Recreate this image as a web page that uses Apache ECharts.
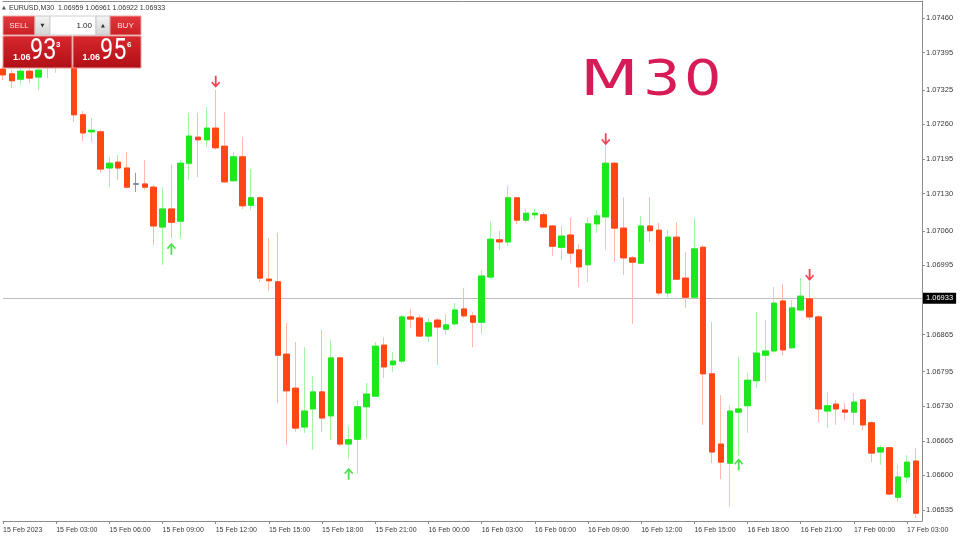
<!DOCTYPE html>
<html><head><meta charset="utf-8">
<script src="https://cdn.jsdelivr.net/npm/echarts@6/dist/echarts.min.js"></script>
<style>html,body{margin:0;padding:0;background:#fff}#c{width:960px;height:540px}</style>
</head><body><div id="c"></div>
<script>
// ---- data ----
const xLabels = ['15 Feb 2023','15 Feb 03:00','15 Feb 06:00','15 Feb 09:00','15 Feb 12:00','15 Feb 15:00','15 Feb 18:00','15 Feb 21:00','16 Feb 00:00','16 Feb 03:00','16 Feb 06:00','16 Feb 09:00','16 Feb 12:00','16 Feb 15:00','16 Feb 18:00','16 Feb 21:00','17 Feb 00:00','17 Feb 03:00'];
const yTicks = [1.06535,1.06600,1.06665,1.06730,1.06795,1.06865,1.06995,1.07060,1.07130,1.07195,1.07260,1.07325,1.07395,1.07460];
const opens = [1.07364,1.07355,1.07345,1.07360,1.07349,1.07373,1.07368,1.07377,1.07370,1.07278,
1.07246,1.07246,1.07178,1.07189,1.07178,1.07148,1.07148,1.07142,1.07067,1.07101,
1.07078,1.07187,1.07236,1.07231,1.07253,1.07219,1.07154,1.07199,1.07108,1.07122,
1.06969,1.06964,1.06828,1.06764,1.06691,1.06725,1.06757,1.06712,1.06821,1.06659,
1.06668,1.06729,1.06749,1.06845,1.06808,1.06815,1.06898,1.06896,1.06862,1.06892,
1.06875,1.06885,1.06913,1.06900,1.06888,1.06973,1.07043,1.07039,1.07122,1.07080,
1.07090,1.07090,1.07069,1.07029,1.07052,1.07024,1.06996,1.07073,1.07086,1.07187,
1.07065,1.07009,1.06999,1.07069,1.07061,1.06943,1.07048,1.06971,1.06935,1.07029,
1.06791,1.06659,1.06623,1.06719,1.06731,1.06778,1.06826,1.06834,1.06928,1.06840,
1.06911,1.06932,1.06898,1.06721,1.06734,1.06723,1.06719,1.06742,1.06699,1.06644,
1.06652,1.06559,1.06597,1.06627];
const closes = [1.07353,1.07342,1.07360,1.07347,1.07362,1.07368,1.07377,1.07370,1.07278,1.07244,
1.07249,1.07176,1.07187,1.07178,1.07142,1.07148,1.07142,1.07069,1.07101,1.07076,
1.07187,1.07238,1.07231,1.07253,1.07216,1.07152,1.07199,1.07107,1.07122,1.06971,
1.06966,1.06826,1.06759,1.06689,1.06721,1.06757,1.06708,1.06821,1.06659,1.06667,
1.06729,1.06753,1.06843,1.06804,1.06815,1.06898,1.06894,1.06862,1.06887,1.06879,
1.06883,1.06911,1.06900,1.06888,1.06975,1.07044,1.07039,1.07122,1.07080,1.07093,
1.07093,1.07067,1.07031,1.07050,1.07018,1.06992,1.07073,1.07088,1.07187,1.07065,
1.07009,1.07001,1.07069,1.07060,1.06943,1.07048,1.06969,1.06935,1.07026,1.06791,
1.06644,1.06625,1.06721,1.06725,1.06779,1.06830,1.06834,1.06924,1.06836,1.06915,
1.06937,1.06898,1.06725,1.06731,1.06725,1.06719,1.06738,1.06695,1.06642,1.06652,
1.06565,1.06597,1.06625,1.06529];
const lows = [1.07343,1.07328,1.07334,1.07338,1.07325,1.07347,1.07357,1.07368,1.07264,1.07229,
1.07227,1.07169,1.07142,1.07155,1.07140,1.07133,1.07137,1.07033,1.06996,1.07046,
1.07046,1.07155,1.07161,1.07217,1.07212,1.07150,1.07152,1.07101,1.07099,1.06964,
1.06947,1.06736,1.06657,1.06682,1.06680,1.06648,1.06682,1.06667,1.06655,1.06631,
1.06603,1.06670,1.06747,1.06783,1.06794,1.06811,1.06877,1.06860,1.06851,1.06808,
1.06864,1.06883,1.06896,1.06841,1.06866,1.06969,1.07024,1.07031,1.07073,1.07075,
1.07082,1.07065,1.07013,1.07005,1.06999,1.06954,1.06964,1.07056,1.07024,1.07001,
1.06977,1.06885,1.06997,1.07039,1.06939,1.06935,1.06967,1.06915,1.06934,1.06695,
1.06623,1.06593,1.06541,1.06638,1.06680,1.06764,1.06776,1.06832,1.06826,1.06838,
1.06909,1.06892,1.06700,1.06689,1.06695,1.06704,1.06695,1.06685,1.06625,1.06620,
1.06563,1.06550,1.06586,1.06520];
const highs = [1.07370,1.07362,1.07366,1.07368,1.07370,1.07381,1.07385,1.07385,1.07375,1.07285,
1.07272,1.07249,1.07199,1.07202,1.07208,1.07169,1.07193,1.07146,1.07142,1.07184,
1.07193,1.07281,1.07281,1.07293,1.07325,1.07283,1.07208,1.07236,1.07176,1.07125,
1.07046,1.07056,1.06887,1.06851,1.06841,1.06787,1.06873,1.06856,1.06823,1.06693,
1.06742,1.06774,1.06851,1.06860,1.06832,1.06902,1.06913,1.06902,1.06896,1.06896,
1.06903,1.06924,1.06952,1.06907,1.06986,1.07078,1.07060,1.07144,1.07123,1.07101,
1.07101,1.07095,1.07071,1.07069,1.07084,1.07035,1.07084,1.07099,1.07221,1.07189,
1.07123,1.07013,1.07088,1.07123,1.07075,1.07061,1.07076,1.07020,1.07084,1.07033,
1.06888,1.06751,1.06732,1.06823,1.06793,1.06907,1.06892,1.06954,1.06960,1.06930,
1.06971,1.06964,1.06902,1.06757,1.06742,1.06736,1.06755,1.06744,1.06702,1.06657,
1.06653,1.06620,1.06638,1.06652];
const downArrows = [[24,1.07340],[68,1.07232],[91,1.06977]];
const upArrows = [[19,1.07026],[39,1.06603],[83,1.06621]];
const lastPrice = 1.06933;
const headerText = 'EURUSD,M30  1.06959 1.06961 1.06922 1.06933';
const sellBig = '93', sellSmall = '1.06', sellSup = '3';
const buyBig = '95', buySmall = '1.06', buySup = '6';
const lotText = '1.00';

// ---- build ----
const xTickValues = xLabels.map((_, i) => i * 6);
const wickData = opens.map((o, i) => [i, o, closes[i], lows[i], highs[i]]);
const bodyData = opens.map((o, i) => [i, o, closes[i], Math.min(o, closes[i]), Math.max(o, closes[i])]);

const UP = '#1de81d', DOWN = '#ff4614';
const redGrad = () => new echarts.graphic.LinearGradient(0,0,0,1,[{offset:0,color:'#e4393e'},{offset:1,color:'#c81f25'}]);
const boxGrad = () => new echarts.graphic.LinearGradient(0,0,0,1,[{offset:0,color:'#d8272d'},{offset:1,color:'#b00f16'}]);
const grayGrad = () => new echarts.graphic.LinearGradient(0,0,0,1,[{offset:0,color:'#f6f6f6'},{offset:1,color:'#d2d2d2'}]);
const txt = (x, y, text, font, fill, align, extra) => Object.assign({
  type:'text', x, y, z:100,
  style:{text, font, fill, align: align||'left', textAlign: align||'left', verticalAlign:'middle', textVerticalAlign:'middle'}
}, extra||{});
const rect = (x, y, w, h, fill, stroke) => ({type:'rect', z:99, shape:{x,y,width:w,height:h}, style:{fill, stroke: stroke||null, lineWidth: stroke?1:0}});

const arrowDown = 'path://M4,0 L6,0 L6,8.2 L8.8,5.4 L10,6.6 L5,11.6 L0,6.6 L1.2,5.4 L4,8.2 Z';
const arrowUp = 'path://M4,11.6 L6,11.6 L6,3.4 L8.8,6.2 L10,5 L5,0 L0,5 L1.2,6.2 L4,3.4 Z';

const chart = echarts.init(document.getElementById('c'));
chart.setOption({
  animation:false,
  backgroundColor:'#ffffff',
  grid:{left:0, right:38, top:1, bottom:19},
  xAxis:[{
    type:'value', min:0, max:103.68, position:'bottom',
    axisLine:{show:true, onZero:false, lineStyle:{color:'#8c8c8c', width:1}},
    axisTick:{show:true, length:3, customValues:xTickValues, lineStyle:{color:'#8c8c8c'}},
    axisLabel:{customValues:xTickValues, formatter:v => xLabels[Math.round(v/6)], align:'left', margin:6,
      fontSize:7, color:'#3a3a3a', fontFamily:'Liberation Sans'},
    splitLine:{show:false}
  },{
    type:'value', min:0, max:103.68, position:'top',
    axisLine:{show:true, onZero:false, lineStyle:{color:'#8c8c8c', width:1}},
    axisTick:{show:false}, axisLabel:{show:false}, splitLine:{show:false}
  }],
  yAxis:{
    type:'value', position:'right', min:1.065143, max:1.074920,
    axisLine:{show:true, onZero:false, lineStyle:{color:'#8c8c8c', width:1}},
    axisTick:{show:true, length:3, customValues:yTicks, lineStyle:{color:'#8c8c8c'}},
    axisLabel:{customValues:yTicks, formatter:v => v.toFixed(5), align:'left', margin:4,
      fontSize:7.5, color:'#3a3a3a', fontFamily:'Liberation Sans'},
    splitLine:{show:false}
  },
  series:[{
    type:'candlestick', data:wickData, encode:{x:0, y:[1,2,3,4]}, barWidth:6,
    itemStyle:{color:UP, color0:DOWN, borderColor:'#a6f2a6', borderColor0:'#ffbaa8', borderColorDoji:'#8898b8', borderWidth:1}
  },{
    type:'candlestick', data:bodyData, encode:{x:0, y:[1,2,3,4]}, barWidth:6,
    itemStyle:{color:UP, color0:DOWN, borderColor:UP, borderColor0:DOWN, borderColorDoji:'#6f82a8', borderWidth:1}
  },{
    type:'scatter', data:downArrows, symbol:arrowDown, symbolSize:[9,12], z:5,
    itemStyle:{color:'#e8182c'}
  },{
    type:'scatter', data:upArrows, symbol:arrowUp, symbolSize:[9,12], z:5,
    itemStyle:{color:'#20d820'},
    markLine:{
      silent:true, symbol:['none','none'], z:1, precision:5,
      lineStyle:{color:'#bdbdbd', width:1, type:'solid'},
      label:{show:true, position:'end', distance:1, formatter:lastPrice.toFixed(5), color:'#ffffff',
        backgroundColor:'#000000', padding:[2,3,1,3], fontSize:7.5, fontFamily:'Liberation Sans'},
      data:[{yAxis:lastPrice}]
    }
  }],
  graphic:[
    txt(2, 8, '▲', '5px DejaVu Sans', '#555'),
    txt(9, 8, headerText, '7px Liberation Sans', '#333'),
    // top row
    rect(3, 16, 32, 19, redGrad(), '#f0a6a6'),
    txt(19, 26, 'SELL', '8px Liberation Sans', '#ffe6e6', 'center'),
    rect(35, 16, 15, 19, grayGrad(), '#c8c8c8'),
    txt(42.5, 26, '▼', '5px DejaVu Sans', '#333', 'center'),
    rect(50, 16, 46, 19, '#ffffff', '#d0d0d0'),
    txt(92, 26, lotText, '8px Liberation Sans', '#222', 'right'),
    rect(96, 16, 14, 19, grayGrad(), '#c8c8c8'),
    txt(103, 26, '▲', '5px DejaVu Sans', '#333', 'center'),
    rect(110, 16, 31, 19, redGrad(), '#f0a6a6'),
    txt(125.5, 26, 'BUY', '8px Liberation Sans', '#ffe6e6', 'center'),
    // price boxes
    rect(3, 36, 69, 32, boxGrad(), '#e89a9a'),
    rect(73, 36, 68, 32, boxGrad(), '#e89a9a'),
    txt(13, 57.5, sellSmall, 'bold 9px Liberation Sans', '#ffffff'),
    txt(30, 51.5, sellBig, '30px Roboto', '#ffffff', 'left', {scaleX:0.78}),
    txt(56, 45, sellSup, 'bold 8px Liberation Sans', '#ffffff'),
    txt(82.5, 57.5, buySmall, 'bold 9px Liberation Sans', '#ffffff'),
    txt(100, 51.5, buyBig, '30px Roboto', '#ffffff', 'left', {scaleX:0.78}),
    txt(127, 45, buySup, 'bold 8px Liberation Sans', '#ffffff'),
    // timeframe title
    txt(580, 82, 'M', '49px DejaVu Sans', '#d71b56', 'left', {scaleX:1.39}),
    txt(643, 82, '3', '49px DejaVu Sans', '#d71b56', 'left', {scaleX:1.2}),
    txt(684, 82, '0', '49px DejaVu Sans', '#d71b56', 'left', {scaleX:1.2})
  ]
});
</script>
</body></html>
